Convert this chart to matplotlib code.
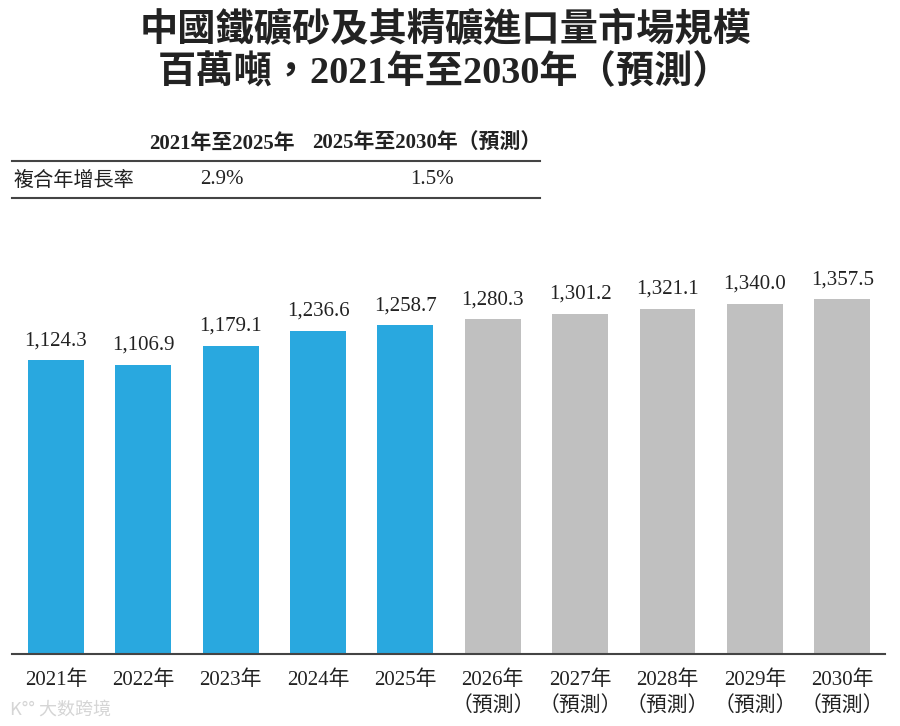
import matplotlib
matplotlib.use("Agg")
import matplotlib.pyplot as plt
import numpy as np

years = ["2021年", "2022年", "2023年", "2024年", "2025年",
         "2026年\n（預測）", "2027年\n（預測）", "2028年\n（預測）", "2029年\n（預測）", "2030年\n（預測）"]
values = [1124.3, 1106.9, 1179.1, 1236.6, 1258.7, 1280.3, 1301.2, 1321.1, 1340.0, 1357.5]
n_actual = 5
table_header = ["2021年至2025年", "2025年至2030年（預測）"]
table_row_label = "複合年增長率"
table_values = ["2.9%", "1.5%"]

blue = "#29a8df"
grey = "#c0c0c0"
fam = ["Liberation Serif", "Noto Sans CJK TC"]
cjk = ["Noto Sans CJK TC", "Liberation Serif"]

W, H = 900, 726
fig = plt.figure(figsize=(W / 100, H / 100), dpi=100)

def fx(px):
    return px / W

def fy(py):
    return 1 - py / H

# title
fig.text(fx(446), fy(30), "中國鐵礦砂及其精礦進口量市場規模", ha="center", va="center",
         fontsize=27.5, fontweight="bold", family=cjk, color="#222222")
fig.text(fx(445), fy(73), "百萬噸，2021年至2030年（預測）", ha="center", va="center",
         fontsize=27.5, fontweight="bold", family=fam, color="#222222")

# CAGR table
fig.text(fx(222), fy(144), table_header[0], ha="center", va="center",
         fontsize=15, fontweight="bold", family=fam, color="#222222")
fig.text(fx(427), fy(144), table_header[1], ha="center", va="center",
         fontsize=15, fontweight="bold", family=fam, color="#222222")
fig.text(fx(14), fy(180), table_row_label, ha="left", va="center",
         fontsize=14.5, family=cjk, color="#222222")
fig.text(fx(222), fy(180), table_values[0], ha="center", va="center",
         fontsize=15, family=fam, color="#222222")
fig.text(fx(432), fy(180), table_values[1], ha="center", va="center",
         fontsize=15, family=fam, color="#222222")
for yy in (161, 198):
    fig.add_artist(plt.Line2D([fx(12), fx(540)], [fy(yy), fy(yy)], color="#444444", lw=1.5))

# bars
ax = fig.add_axes([fx(12), fy(654), fx(885) - fx(12), (1500 * 0.2615) / H])
x = np.arange(len(values))
colors = [blue if i < n_actual else grey for i in range(len(values))]
ax.bar(x, values, width=0.64, color=colors)
ax.set_xlim(-0.504, 9.49)
ax.set_ylim(0, 1500)
for xi, v in zip(x, values):
    ax.annotate(f"{v:,.1f}", (xi, v), xytext=(0, 7), textcoords="offset points",
                ha="center", va="bottom", fontsize=15, family=fam, color="#222222")

ax.set_xticks(x)
ax.set_xticklabels(years, fontsize=15, family=fam, color="#222222", linespacing=1.35)
ax.tick_params(axis="x", length=0, pad=12)
ax.set_yticks([])
for s in ("left", "right", "top"):
    ax.spines[s].set_visible(False)
ax.spines["bottom"].set_color("#444444")
ax.spines["bottom"].set_linewidth(1.5)

# watermark
fig.text(fx(10), fy(710), "K\u00b0\u00b0 大数跨境", ha="left", va="center",
         fontsize=13, family=cjk, color="#d5d5d5")

fig.savefig("out.png", dpi=100)
